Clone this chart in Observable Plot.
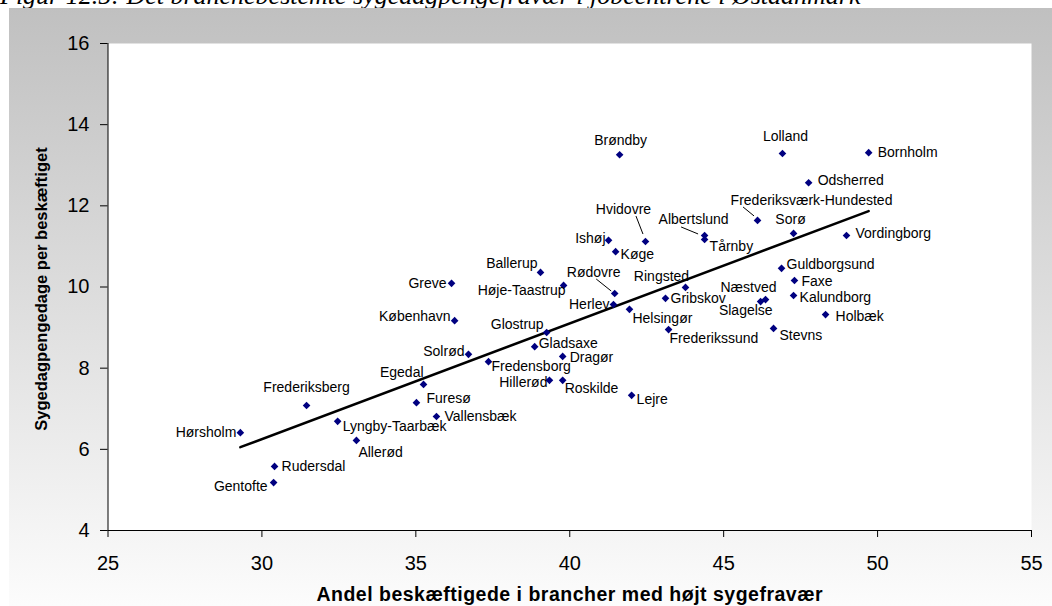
<!DOCTYPE html>
<html><head><meta charset="utf-8">
<script src="https://cdn.jsdelivr.net/npm/d3@7"></script>
<script src="https://cdn.jsdelivr.net/npm/@observablehq/plot@0.6"></script>
<style>
html,body{margin:0;padding:0;background:#fff;}
#page{position:relative;width:1052px;height:606px;overflow:hidden;}
#title{position:absolute;left:0;top:-17px;font:italic 26px/26px "Liberation Serif","Times New Roman",serif;white-space:nowrap;color:#000;}
#panel{position:absolute;left:9px;top:8px;width:1043px;height:598px;background:linear-gradient(#c0c0c0,#fcfcfc);}
.xtitle text{letter-spacing:0.5px;}
</style></head>
<body><div id="page"><div id="title">Figur 12.5: Det branchebestemte sygedagpengefravær i jobcentrene i Østdanmark</div><div id="panel"></div></div>
<script>
// ---- data ----
const names = ["Hørsholm","Gentofte","Rudersdal","Frederiksberg","Lyngby-Taarbæk","Allerød","Furesø","Egedal","Vallensbæk","Solrød","Greve","København","Fredensborg","Ballerup","Høje-Taastrup","Glostrup","Gladsaxe","Dragør","Hillerød","Roskilde","Brøndby","Ishøj","Køge","Hvidovre","Rødovre","Herlev","Helsingør","Lejre","Ringsted","Gribskov","Frederikssund","Albertslund","Tårnby","Frederiksværk-Hundested","Lolland","Bornholm","Odsherred","Sorø","Vordingborg","Guldborgsund","Faxe","Kalundborg","Holbæk","Næstved","Slagelse","Stevns"];
const shareHighAbsence = [29.30,30.38,30.41,31.45,32.46,33.07,35.02,35.25,35.67,36.71,36.16,36.26,37.36,39.05,39.80,39.25,38.86,39.77,39.34,39.77,41.62,41.26,41.49,42.46,41.46,41.42,41.94,42.01,43.76,43.11,43.21,44.38,44.38,46.10,46.91,49.71,47.76,47.27,48.99,46.88,47.30,47.27,48.31,46.36,46.20,46.62];
const sickDaysPerEmployed = [6.41,5.18,5.58,7.08,6.69,6.22,7.15,7.60,6.81,8.34,10.09,9.17,8.16,10.36,10.04,8.88,8.53,8.29,7.70,7.70,13.26,11.15,10.87,11.12,9.84,9.57,9.45,7.33,9.99,9.72,8.95,11.27,11.17,11.64,13.29,13.31,12.57,11.32,11.27,10.46,10.16,9.79,9.32,9.69,9.64,8.98];
const xTicks = [25,30,35,40,45,50,55];
const yTicks = [4,6,8,10,12,14,16];
const xTitle = "Andel beskæftigede i brancher med højt sygefravær";
const yTitle = "Sygedagpengedage per beskæftiget";

// ---- label layout (anchor, pixel offsets from the point) ----
const labelLayout = {
  "Hørsholm":["end",-4,0],"Gentofte":["end",-6,4],"Rudersdal":["start",7,0],"Frederiksberg":["middle",0,-18],
  "Lyngby-Taarbæk":["start",5,5],"Allerød":["start",2,12],"Furesø":["start",10,-4],"Egedal":["end",0,-12],
  "Vallensbæk":["start",8,0],"Solrød":["end",-4,-3],"Greve":["end",-5,0],"København":["end",-4,-4],
  "Fredensborg":["start",3,5],"Ballerup":["end",-3,-9],"Høje-Taastrup":["end",2,5],"Glostrup":["end",-3,-8],
  "Gladsaxe":["start",4,-3],"Dragør":["start",7,1],"Hillerød":["end",-2,2],"Roskilde":["start",2,8],
  "Brøndby":["middle",1,-14],"Ishøj":["end",-3,-2],"Køge":["start",5,3],"Hvidovre":["middle",-22,-32],
  "Rødovre":["middle",-21,-21],"Herlev":["end",-4,0],"Helsingør":["start",3,9],"Lejre":["start",5,4],
  "Ringsted":["middle",-24,-11],"Gribskov":["start",5,0],"Frederikssund":["start",1,9],"Albertslund":["middle",-11,-16],
  "Tårnby":["start",5,7],"Frederiksværk-Hundested":["middle",54,-20],"Lolland":["middle",3,-17],"Bornholm":["start",9,0],
  "Odsherred":["start",9,-2],"Sorø":["middle",-3,-14],"Vordingborg":["start",9,-2],"Guldborgsund":["start",5,-4],
  "Faxe":["start",7,1],"Kalundborg":["start",6,2],"Holbæk":["start",10,2],"Næstved":["end",11,-12],
  "Slagelse":["end",12,9],"Stevns":["start",6,7]
};
const leaderLayout = {
  "Hvidovre":[-9,-25,-2,-7],"Rødovre":[-18,-14,-3,-2],"Albertslund":[-23,-8,-6,-1],"Frederiksværk-Hundested":[-14,-13,-3,-4]
};

const data = names.map((name,i)=>({name, x:shareHighAbsence[i], y:sickDaysPerEmployed[i]}));
const byName = new Map(data.map(d=>[d.name,d]));

const diamond = {draw(ctx,size){const h=Math.sqrt(size/2);ctx.moveTo(0,-h);ctx.lineTo(h,0);ctx.lineTo(0,h);ctx.lineTo(-h,0);ctx.closePath();}};

const labelMarks = data.map(d=>{
  const [a,dx,dy] = labelLayout[d.name];
  return Plot.text([d],{x:"x",y:"y",text:"name",textAnchor:a,dx,dy,fontSize:14,fill:"black"});
});

const leaders = (index, scales) => {
  const g = d3.create("svg:g").attr("stroke","black").attr("stroke-width",1);
  for (const [name,o] of Object.entries(leaderLayout)) {
    const d = byName.get(name); const px = scales.x(d.x), py = scales.y(d.y);
    g.append("line").attr("x1",px+o[0]).attr("y1",py+o[1]).attr("x2",px+o[2]).attr("y2",py+o[3]);
  }
  return g.node();
};

const chart = Plot.plot({
  width:1043, height:598,
  marginLeft:98.5, marginRight:21, marginTop:35, marginBottom:76,
  style:{background:"transparent", fontFamily:"'Liberation Sans', Arial, sans-serif", color:"black"},
  x:{domain:[25,55]},
  y:{domain:[4,16]},
  marks:[
    Plot.frame({fill:"white", stroke:null}),
    Plot.axisY({ticks:yTicks, tickSize:7.5, tickPadding:11, fontSize:20, label:null, tickFormat:d=>d}),
    Plot.axisX({ticks:xTicks, tickSize:7, tickPadding:18, fontSize:20, label:null, tickFormat:d=>d}),
    Plot.ruleX([25],{stroke:"black"}),
    Plot.ruleY([4],{stroke:"black"}),
    Plot.linearRegressionY(data,{x:"x",y:"y",stroke:"black",strokeWidth:2.5,ci:0}),
    leaders,
    Plot.dot(data,{x:"x",y:"y",symbol:diamond,r:3.05,fill:"#000080",stroke:null}),
    ...labelMarks,
    Plot.text([xTitle],{text:d=>d,frameAnchor:"bottom",lineAnchor:"middle",textAnchor:"middle",dy:64,fontSize:19.5,fontWeight:"bold",fill:"black",className:"xtitle"}),
    Plot.text([yTitle],{text:d=>d,frameAnchor:"left",lineAnchor:"middle",textAnchor:"middle",dx:-66,dy:2,rotate:-90,fontSize:16.5,fontWeight:"bold",fill:"black"})
  ]
});
document.getElementById("panel").appendChild(chart);
</script>
</body></html>
